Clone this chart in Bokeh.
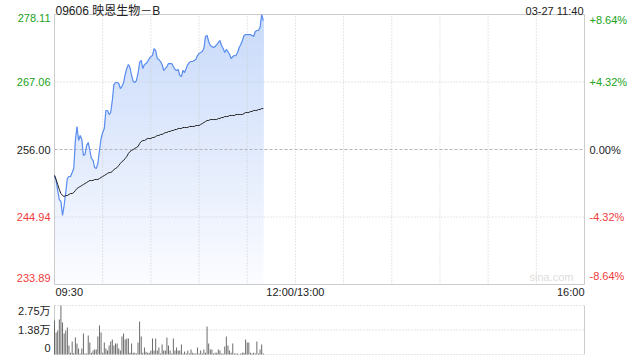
import numpy as np
from bokeh.plotting import figure
from bokeh.layouts import column
from bokeh.models import Range1d, ColumnDataSource
from bokeh.core.properties import value
from bokeh.embed import file_html
from bokeh.resources import INLINE

# ---------------- data ----------------
title_text = "09606 映恩生物－B"
date_text = "03-27 11:40"
prev_close = 256.00
price_ticks = [233.89, 244.94, 256.00, 267.06, 278.11]
price_tick_labels = ["233.89", "244.94", "256.00", "267.06", "278.11"]
pct_tick_labels = ["-8.64%", "-4.32%", "0.00%", "+4.32%", "+8.64%"]
time_ticks = [0, 150, 330]            # minutes after 09:30 (lunch break removed)
time_tick_labels = ["09:30", "12:00/13:00", "16:00"]
time_grid = [30, 60, 90, 120, 150, 180, 210, 240, 270, 300]
vol_ticks = [0, 1.38, 2.75]
vol_tick_labels = ["0", "1.38万", "2.75万"]

# minute-by-minute price, 09:30 .. 11:40
price = [
    251.74, 250.92, 249.28, 247.81, 247.48, 245.19, 246.83, 248.96, 251.25, 251.58,
    251.58, 252.23, 252.89, 257.47, 259.77, 257.47, 258.29, 257.64, 255.02, 255.18,
    256.65, 257.15, 255.84, 254.53, 254.20, 253.05, 252.89, 253.71, 255.84, 257.80,
    258.78, 259.44, 262.39, 262.39, 261.73, 262.06, 264.02, 266.64, 266.97, 266.97,
    266.81, 265.99, 266.32, 266.97, 268.28, 269.26, 269.92, 269.43, 268.12, 267.14,
    266.97, 267.30, 268.45, 270.25, 270.58, 269.26, 269.92, 270.08, 270.41, 270.90,
    271.23, 271.39, 272.54, 272.21, 270.90, 270.74, 270.41, 269.92, 268.94, 269.26,
    269.59, 270.08, 270.08, 270.08, 269.59, 269.10, 268.94, 269.10, 268.12, 267.95,
    268.94, 268.61, 269.26, 269.92, 270.25, 270.41, 270.41, 270.58, 270.74, 271.39,
    271.72, 271.88, 272.05, 272.54, 274.50, 274.67, 273.69, 273.03, 272.87, 272.70,
    272.87, 273.19, 273.52, 273.85, 273.03, 272.54, 271.88, 272.38, 272.05, 271.56,
    270.90, 271.23, 271.39, 271.39, 271.88, 272.70, 273.19, 273.85, 274.67, 274.83,
    274.83, 274.83, 274.83, 274.67, 274.50, 275.32, 275.49, 275.49, 275.98, 278.11,
    277.13,
]
avg_price = [
    251.74, 251.09, 250.27, 249.45, 248.79, 248.47, 248.30, 248.47, 248.47, 248.63,
    248.79, 248.79, 248.96, 249.28, 249.61, 249.78, 249.94, 250.10, 250.27, 250.43,
    250.59, 250.76, 250.92, 250.92, 250.92, 251.09, 251.09, 251.09, 251.25, 251.41,
    251.58, 251.74, 251.90, 252.07, 252.23, 252.23, 252.40, 252.72, 252.89, 253.05,
    253.38, 253.71, 254.03, 254.20, 254.53, 254.85, 255.34, 255.67, 255.84, 256.00,
    256.16, 256.33, 256.49, 256.98, 257.31, 257.47, 257.47, 257.64, 257.80, 257.80,
    257.80, 257.96, 257.96, 258.13, 258.29, 258.29, 258.46, 258.46, 258.62, 258.78,
    258.78, 258.95, 258.95, 259.11, 259.11, 259.27, 259.27, 259.44, 259.44, 259.44,
    259.60, 259.60, 259.60, 259.60, 259.77, 259.77, 259.77, 259.77, 259.93, 259.93,
    259.93, 260.09, 260.26, 260.42, 260.58, 260.75, 260.75, 260.91, 260.91, 260.91,
    260.91, 260.91, 261.08, 261.08, 261.24, 261.24, 261.40, 261.40, 261.40, 261.57,
    261.57, 261.57, 261.57, 261.73, 261.73, 261.73, 261.73, 261.73, 261.89, 262.06,
    262.06, 262.06, 262.22, 262.22, 262.39, 262.39, 262.39, 262.55, 262.55, 262.71,
    262.71,
]
# volume per minute, in 万 shares
volume = [
    1.91, 1.23, 1.35, 1.96, 2.75, 1.80, 1.18, 1.35, 1.52, 0.50,
    0.10, 0.73, 0.08, 0.95, 0.62, 0.34, 0.06, 0.34, 1.18, 0.06,
    0.06, 1.07, 0.67, 0.10, 0.22, 0.28, 0.28, 1.01, 1.63, 1.23,
    0.10, 0.67, 0.34, 0.22, 0.50, 0.73, 0.84, 0.50, 0.62, 0.62,
    0.34, 0.22, 1.01, 1.18, 0.84, 0.90, 0.90, 0.10, 0.62, 0.10,
    0.10, 0.06, 0.67, 1.85, 1.01, 0.10, 0.39, 0.15, 0.10, 0.10,
    0.22, 0.90, 0.22, 0.90, 0.22, 0.39, 0.05, 0.56, 0.22, 0.22,
    0.95, 0.50, 0.22, 0.05, 0.90, 0.22, 0.39, 0.22, 0.22, 0.56,
    0.05, 0.17, 0.05, 0.22, 0.05, 0.28, 0.10, 0.05, 0.05, 0.39,
    0.05, 0.22, 0.05, 0.28, 0.10, 1.57, 0.62, 0.28, 0.28, 0.05,
    0.10, 0.10, 0.28, 0.22, 0.05, 0.05, 0.45, 1.01, 0.50, 0.22,
    0.10, 0.62, 0.05, 0.05, 0.05, 0.02, 0.05, 0.10, 0.10, 0.84,
    0.67, 0.67, 0.10, 0.05, 0.10, 0.05, 0.73, 0.05, 0.28, 0.56,
    0.05,
]
minutes = list(range(len(price)))

# ---------------- layout / style ----------------
FONT = "Liberation Sans, Arial, Noto Sans CJK SC"
GREEN = "#21a321"
RED = "#f03c3c"
DARK = "#222222"
GRID = "#cccccc"
BLUE = "#5a8def"

W = 640
PLOT_L, PLOT_R = 54, 584          # pixel edges of the chart area
T0, T1 = time_ticks[0], time_ticks[-1]
ppm = (PLOT_R - PLOT_L) / (T1 - T0)
x_range = Range1d(T0 - PLOT_L / ppm, T1 + (W - PLOT_R) / ppm)

# price panel: canvas 304 px tall, chart area from y=14 to y=284
H1, TOP1, BOT1 = 304, 14, 284
P0, P1 = price_ticks[0], price_ticks[-1]
ppp = (BOT1 - TOP1) / (P1 - P0)
y_range1 = Range1d(P0 - (H1 - BOT1) / ppp, P1 + TOP1 / ppp)

# volume panel: canvas 56 px tall, chart area from y=1 to y=50
H2, TOP2, BOT2 = 56, 1, 50
V0, V1 = vol_ticks[0], vol_ticks[-1]
ppv = (BOT2 - TOP2) / (V1 - V0)
y_range2 = Range1d(V0 - (H2 - BOT2) / ppv, V1 + TOP2 / ppv)


def bare_figure(h, yr):
    f = figure(width=W, height=h, x_range=x_range, y_range=yr,
               x_axis_location=None, y_axis_location=None,
               toolbar_location=None, output_backend="svg",
               min_border=0)
    f.grid.visible = False
    f.outline_line_color = None
    f.background_fill_color = "white"
    f.border_fill_color = "white"
    return f


# ---------------- price figure ----------------
p = bare_figure(H1, y_range1)

# gradient fill under the price line: stacked bands, lighter towards the bottom
pr = np.array(price)
n_bands = 40
levels = np.linspace(P0, P1, n_bands + 1)[:-1]
c_bot = np.array([251, 252, 255])
c_top = np.array([200, 218, 250])
for i, lev in enumerate(levels):
    t = (i + 0.5) / n_bands
    c = (c_bot + (c_top - c_bot) * t).round().astype(int)
    p.varea(x=minutes, y1=lev, y2=np.maximum(pr, lev),
            fill_color="#%02x%02x%02x" % tuple(c))

# grid lines and frame
p.segment(x0=time_grid, y0=P0, x1=time_grid, y1=P1,
          line_color=GRID, line_dash="1 2", line_width=1)
p.segment(x0=T0, y0=[244.94, 267.06], x1=T1, y1=[244.94, 267.06],
          line_color=GRID, line_dash="1 2", line_width=1)
p.segment(x0=T0, y0=prev_close, x1=T1, y1=prev_close,
          line_color="#b4b4b4", line_dash="3 2", line_width=1)
p.quad(left=T0, right=T1, bottom=P0, top=P1, fill_color=None,
       line_color=GRID, line_width=1)

p.line(minutes, price, line_color=BLUE, line_width=1.2)
p.line(minutes, avg_price, line_color=DARK, line_width=1)

# texts
rows = dict(x=[], y=[], text=[], color=[], align=[], baseline=[], xo=[], yo=[], size=[])


def add(x, y, text, color, align, baseline, xo, yo, size="11px"):
    for k, v in zip(rows, (x, y, text, color, align, baseline, xo, yo, size)):
        rows[k].append(v)


label_colors = [RED, RED, DARK, GREEN, GREEN]
baselines = ["bottom", "middle", "middle", "middle", "top"]
yoffs = [-3, 0, 0, 0, -1]
for val, lab, pct, col, bl, yo in zip(price_ticks, price_tick_labels, pct_tick_labels,
                                      label_colors, baselines, yoffs):
    add(T0, val, lab, col, "right", bl, -4, yo)
    add(T1, val, pct, col, "left", bl, 5, yo)

for t, lab, al in zip(time_ticks, time_tick_labels, ["left", "center", "right"]):
    add(t, P0, lab, DARK, al, "top", 1 if al == "left" else 0, 1)

add(T0, P1, title_text, DARK, "left", "alphabetic", 1, -4, "12px")
add(T1, P1, date_text, DARK, "right", "alphabetic", -1, -4)
add(T1, P0, "sina.com", "#dddddd", "right", "bottom", -11, -2)

p.text(x="x", y="y", text="text", source=ColumnDataSource(rows),
       text_color="color", text_align="align", text_baseline="baseline",
       x_offset="xo", y_offset="yo", text_font_size="size",
       text_font=value(FONT))

# ---------------- volume figure ----------------
v = bare_figure(H2, y_range2)
v.segment(x0=T0, y0=vol_ticks, x1=T1, y1=vol_ticks,
          line_color=GRID, line_dash="1 2", line_width=1)
v.segment(x0=[T0, T1], y0=V0, x1=[T0, T1], y1=V1, line_color=GRID, line_width=1)
v.vbar(x=minutes, top=volume, bottom=0, width=0.6, fill_color="#666666",
       line_color=None)

vrows = dict(x=[T0] * 3, y=vol_ticks, text=vol_tick_labels,
             baseline=["bottom", "middle", "top"], yo=[-3, 0, -1])
v.text(x="x", y="y", text="text", source=ColumnDataSource(vrows),
       text_color=DARK, text_align="right", text_baseline="baseline",
       x_offset=-4, y_offset="yo", text_font_size="11px", text_font=value(FONT))

layout = column(p, v, spacing=0)
open("out.html", "w").write(file_html(layout, INLINE))
